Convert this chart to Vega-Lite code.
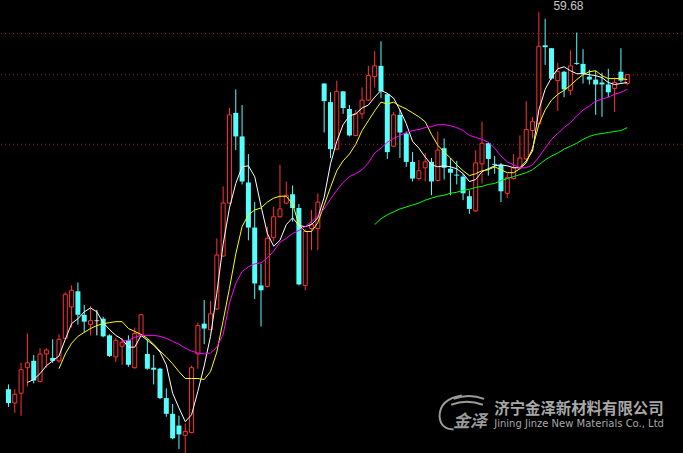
{
"$schema":"https://vega.github.io/schema/vega-lite/v6.json",
"width":683,"height":453,
"autosize":{"type":"fit","contains":"padding"},
"padding":0,
"background":"#000000",
"config":{"view":{"stroke":null}},
"datasets":{
"k":[
{"i":0,"o":21.2,"h":21.7,"l":19.4,"c":19.8},
{"i":1,"o":19.8,"h":21.2,"l":18.8,"c":20.7},
{"i":2,"o":20.8,"h":23.9,"l":18.5,"c":23.2},
{"i":3,"o":23.4,"h":26.9,"l":21.5,"c":23.9,"m5":21.9},
{"i":4,"o":24.1,"h":24.7,"l":21.8,"c":22.1,"m5":22.2},
{"i":5,"o":22.0,"h":25.4,"l":21.9,"c":24.8,"m5":22.8},
{"i":6,"o":24.8,"h":25.4,"l":23.4,"c":25.2,"m5":23.6},
{"i":7,"o":24.4,"h":26.3,"l":23.9,"c":24.1,"m5":24.1},
{"i":8,"o":24.1,"h":26.8,"l":23.9,"c":26.3,"m5":24.6,"m10":23.3},
{"i":9,"o":26.4,"h":31.1,"l":26.3,"c":30.9,"m5":26.3,"m10":24.8},
{"i":10,"o":29.6,"h":31.8,"l":27.5,"c":31.3,"m5":27.9,"m10":25.9},
{"i":11,"o":31.2,"h":32.1,"l":27.8,"c":28.8,"m5":28.4,"m10":26.6},
{"i":12,"o":28.8,"h":29.8,"l":27.0,"c":28.1,"m5":29.1,"m10":27.0},
{"i":13,"o":27.8,"h":29.7,"l":26.7,"c":28.2,"m5":29.5,"m10":27.4},
{"i":14,"o":28.2,"h":29.3,"l":26.7,"c":28.2,"m5":29.1,"m10":27.7},
{"i":15,"o":28.4,"h":28.6,"l":26.5,"c":26.6,"m5":28.0,"m10":27.9},
{"i":16,"o":26.7,"h":26.8,"l":24.5,"c":24.6,"m5":27.3,"m10":28.0},
{"i":17,"o":24.5,"h":26.4,"l":24.0,"c":26.2,"m5":26.7,"m10":28.1},
{"i":18,"o":25.6,"h":26.4,"l":23.7,"c":26.0,"m5":26.3,"m10":28.1,"m20":26.1},
{"i":19,"o":26.2,"h":26.7,"l":23.5,"c":23.7,"m5":25.5,"m10":27.4,"m20":26.2},
{"i":20,"o":23.4,"h":27.5,"l":23.3,"c":26.9,"m5":25.5,"m10":27.1,"m20":26.5},
{"i":21,"o":26.7,"h":28.9,"l":26.5,"c":28.8,"m5":26.7,"m10":26.8,"m20":26.7},
{"i":22,"o":24.8,"h":26.3,"l":23.2,"c":23.3,"m5":26.2,"m10":26.4,"m20":26.7},
{"i":23,"o":23.4,"h":24.7,"l":21.7,"c":23.2,"m5":25.7,"m10":25.8,"m20":26.7},
{"i":24,"o":23.3,"h":23.4,"l":20.2,"c":20.3,"m5":25.0,"m10":25.1,"m20":26.6},
{"i":25,"o":20.3,"h":21.3,"l":18.4,"c":18.7,"m5":23.7,"m10":24.5,"m20":26.4},
{"i":26,"o":18.7,"h":19.7,"l":16.1,"c":16.2,"m5":20.8,"m10":23.8,"m20":26.1},
{"i":27,"o":17.5,"h":18.5,"l":15.1,"c":16.6,"m5":19.3,"m10":23.0,"m20":25.8},
{"i":28,"o":16.5,"h":17.7,"l":14.5,"c":16.9,"m5":17.9,"m10":22.3,"m20":25.4},
{"i":29,"o":16.8,"h":23.6,"l":16.7,"c":23.4,"m5":18.6,"m10":22.3,"m20":25.1},
{"i":30,"o":24.8,"h":28.0,"l":23.3,"c":27.7,"m5":21.0,"m10":22.3,"m20":24.9},
{"i":31,"o":27.9,"h":30.3,"l":25.8,"c":27.4,"m5":23.6,"m10":22.2,"m20":24.8},
{"i":32,"o":27.3,"h":30.2,"l":27.2,"c":28.9,"m5":26.6,"m10":23.0,"m20":24.9},
{"i":33,"o":29.4,"h":36.6,"l":29.3,"c":34.9,"m5":31.0,"m10":25.0,"m20":25.5},
{"i":34,"o":34.8,"h":41.9,"l":34.7,"c":40.2,"m5":36.0,"m10":28.2,"m20":26.8},
{"i":35,"o":40.2,"h":49.9,"l":40.1,"c":49.2,"m5":39.7,"m10":31.5,"m20":30.0},
{"i":36,"o":49.4,"h":51.8,"l":45.6,"c":47.0,"m5":42.2,"m10":35.0,"m20":32.0},
{"i":37,"o":47.0,"h":50.2,"l":42.1,"c":42.4,"m5":43.9,"m10":37.8,"m20":33.2},
{"i":38,"o":42.3,"h":45.2,"l":36.4,"c":37.7,"m5":44.0,"m10":39.0,"m20":33.7},
{"i":39,"o":37.7,"h":40.3,"l":30.4,"c":32.0,"m5":42.9,"m10":39.5,"m20":34.0},
{"i":40,"o":31.8,"h":34.0,"l":27.6,"c":31.3,"m5":39.9,"m10":39.7,"m20":34.1},
{"i":41,"o":31.7,"h":37.8,"l":31.6,"c":36.6,"m5":37.1,"m10":40.3,"m20":34.6},
{"i":42,"o":36.7,"h":39.8,"l":36.3,"c":38.8,"m5":35.8,"m10":40.7,"m20":35.3},
{"i":43,"o":38.8,"h":44.1,"l":38.7,"c":39.6,"m5":36.4,"m10":40.9,"m20":36.2},
{"i":44,"o":40.2,"h":42.4,"l":40.1,"c":41.0,"m5":38.0,"m10":40.9,"m20":36.6},
{"i":45,"o":41.1,"h":42.0,"l":38.3,"c":39.7,"m5":38.7,"m10":40.1,"m20":37.1},
{"i":46,"o":39.7,"h":40.1,"l":31.8,"c":31.9,"m5":37.9,"m10":38.0,"m20":37.4},
{"i":47,"o":31.8,"h":37.5,"l":31.3,"c":37.3,"m5":37.8,"m10":37.3,"m20":37.8},
{"i":48,"o":37.6,"h":39.5,"l":35.4,"c":38.0,"m5":38.0,"m10":37.3,"m20":38.3},
{"i":49,"o":37.6,"h":41.2,"l":35.4,"c":40.3,"m5":38.7,"m10":38.2,"m20":38.9},
{"i":50,"o":52.4,"h":52.4,"l":47.4,"c":50.6,"m5":40.8,"m10":40.0,"m20":39.6},
{"i":51,"o":50.5,"h":51.5,"l":44.8,"c":45.7,"m5":44.2,"m10":41.8,"m20":40.6},
{"i":52,"o":45.7,"h":52.7,"l":45.6,"c":51.6,"m5":46.5,"m10":43.5,"m20":41.5},
{"i":53,"o":51.6,"h":51.6,"l":49.3,"c":49.9,"m5":48.2,"m10":44.5,"m20":42.3},
{"i":54,"o":49.8,"h":50.2,"l":47.0,"c":47.1,"m5":49.1,"m10":45.2,"m20":42.9},
{"i":55,"o":47.1,"h":49.7,"l":47.0,"c":49.3,"m5":49.3,"m10":46.2,"m20":43.2},
{"i":56,"o":49.3,"h":52.0,"l":48.8,"c":50.7,"m5":49.9,"m10":47.6,"m20":43.6},
{"i":57,"o":50.7,"h":54.2,"l":50.6,"c":53.2,"m5":50.2,"m10":48.6,"m20":44.3},
{"i":58,"o":53.1,"h":55.7,"l":52.0,"c":54.2,"m5":51.0,"m10":49.6,"m20":45.3,"m60":38.0},
{"i":59,"o":54.2,"h":56.7,"l":50.9,"c":51.6,"m5":51.7,"m10":50.5,"m20":45.8,"m60":38.6},
{"i":60,"o":51.3,"h":51.4,"l":44.7,"c":45.4,"m5":51.4,"m10":50.3,"m20":46.4,"m60":39.0},
{"i":61,"o":46.0,"h":49.5,"l":45.9,"c":49.2,"m5":50.9,"m10":50.5,"m20":46.8,"m60":39.3},
{"i":62,"o":49.2,"h":49.7,"l":44.8,"c":47.4,"m5":49.7,"m10":50.1,"m20":47.1,"m60":39.6},
{"i":63,"o":47.3,"h":47.5,"l":43.9,"c":44.4,"m5":48.3,"m10":49.8,"m20":47.4,"m60":39.8},
{"i":64,"o":44.4,"h":45.4,"l":42.4,"c":42.7,"m5":46.5,"m10":49.4,"m20":47.6,"m60":40.0},
{"i":65,"o":42.7,"h":44.6,"l":42.5,"c":43.5,"m5":45.8,"m10":49.0,"m20":47.7,"m60":40.2},
{"i":66,"o":43.8,"h":45.3,"l":42.4,"c":44.4,"m5":44.9,"m10":48.5,"m20":47.9,"m60":40.5},
{"i":67,"o":44.4,"h":44.8,"l":41.0,"c":42.4,"m5":44.1,"m10":47.2,"m20":48.0,"m60":40.7},
{"i":68,"o":42.5,"h":47.5,"l":42.4,"c":45.6,"m5":43.9,"m10":46.1,"m20":48.2,"m60":40.9},
{"i":69,"o":45.8,"h":46.8,"l":42.6,"c":43.8,"m5":44.0,"m10":45.4,"m20":48.2,"m60":41.0},
{"i":70,"o":43.7,"h":44.8,"l":41.0,"c":43.3,"m5":43.9,"m10":44.8,"m20":48.1,"m60":41.2},
{"i":71,"o":43.1,"h":44.5,"l":42.1,"c":43.0,"m5":43.7,"m10":44.1,"m20":47.9,"m60":41.3},
{"i":72,"o":42.9,"h":43.2,"l":40.5,"c":41.2,"m5":43.2,"m10":43.5,"m20":47.6,"m60":41.5},
{"i":73,"o":40.9,"h":41.5,"l":39.1,"c":39.6,"m5":42.4,"m10":43.0,"m20":47.1,"m60":41.6},
{"i":74,"o":39.4,"h":45.6,"l":39.3,"c":44.3,"m5":42.6,"m10":43.2,"m20":46.9,"m60":41.8},
{"i":75,"o":44.2,"h":48.5,"l":42.2,"c":46.3,"m5":43.4,"m10":43.5,"m20":46.7,"m60":41.9},
{"i":76,"o":46.3,"h":46.4,"l":43.0,"c":44.7,"m5":43.7,"m10":43.6,"m20":46.4,"m60":42.1},
{"i":77,"o":44.2,"h":45.0,"l":43.2,"c":44.1,"m5":44.0,"m10":43.9,"m20":45.8,"m60":42.2},
{"i":78,"o":44.1,"h":44.3,"l":40.3,"c":41.4,"m5":44.1,"m10":43.6,"m20":45.0,"m60":42.5},
{"i":79,"o":41.2,"h":43.2,"l":40.7,"c":42.8,"m5":44.0,"m10":43.3,"m20":44.4,"m60":42.7},
{"i":80,"o":42.7,"h":45.2,"l":42.6,"c":43.8,"m5":43.8,"m10":43.3,"m20":44.1,"m60":42.9},
{"i":81,"o":43.8,"h":47.1,"l":43.7,"c":44.8,"m5":43.8,"m10":43.7,"m20":43.8,"m60":43.1},
{"i":82,"o":44.7,"h":50.6,"l":44.6,"c":47.7,"m5":44.5,"m10":44.3,"m20":43.8,"m60":43.3},
{"i":83,"o":47.6,"h":49.0,"l":46.8,"c":48.5,"m5":45.5,"m10":45.8,"m20":44.1,"m60":43.6},
{"i":84,"o":48.3,"h":59.68,"l":48.2,"c":56.2,"m5":49.7,"m10":48.2,"m20":44.9,"m60":44.1},
{"i":85,"o":56.3,"h":59.0,"l":54.3,"c":56.1,"m5":51.8,"m10":49.7,"m20":45.8,"m60":44.6},
{"i":86,"o":56.0,"h":56.0,"l":52.8,"c":52.9,"m5":53.0,"m10":50.7,"m20":46.7,"m60":45.0},
{"i":87,"o":52.7,"h":54.5,"l":49.6,"c":53.6,"m5":53.9,"m10":51.3,"m20":47.3,"m60":45.3},
{"i":88,"o":53.6,"h":53.7,"l":51.0,"c":51.8,"m5":54.1,"m10":51.7,"m20":47.9,"m60":45.7},
{"i":89,"o":51.7,"h":55.8,"l":51.2,"c":54.2,"m5":53.7,"m10":52.2,"m20":48.4,"m60":46.0},
{"i":90,"o":54.5,"h":57.6,"l":54.3,"c":54.4,"m5":53.4,"m10":52.8,"m20":49.1,"m60":46.3},
{"i":91,"o":54.4,"h":55.9,"l":52.4,"c":53.4,"m5":53.4,"m10":53.3,"m20":49.7,"m60":46.7},
{"i":92,"o":53.1,"h":53.8,"l":52.3,"c":52.8,"m5":53.3,"m10":53.6,"m20":50.1,"m60":47.0},
{"i":93,"o":52.8,"h":53.7,"l":49.2,"c":52.3,"m5":53.2,"m10":53.7,"m20":50.6,"m60":47.2},
{"i":94,"o":52.5,"h":53.5,"l":49.0,"c":52.3,"m5":53.0,"m10":53.2,"m20":50.8,"m60":47.3},
{"i":95,"o":52.3,"h":53.9,"l":51.0,"c":51.5,"m5":52.5,"m10":52.9,"m20":51.0,"m60":47.4},
{"i":96,"o":51.9,"h":53.0,"l":49.5,"c":52.5,"m5":52.3,"m10":52.9,"m20":51.3,"m60":47.5},
{"i":97,"o":53.6,"h":56.0,"l":52.5,"c":52.7,"m5":52.4,"m10":52.9,"m20":51.5,"m60":47.6},
{"i":98,"o":52.4,"h":53.3,"l":52.2,"c":53.3,"m5":52.5,"m10":52.8,"m20":51.8,"m60":47.9}
],
"lv":[{"p":57.5},{"p":53.3},{"p":46.2}],
"top":[{"i":84,"p":59.68,"t":"59.68"}],
"wm":[{"i":76.94,"p":19.15,"t":"济宁金泽新材料有限公司","k":"cn"},{"i":76.94,"p":17.7,"t":"Jining Jinze New Materials Co., Ltd","k":"en"},{"i":70.4,"p":17.9,"t":"金泽","k":"logo"},{"i":71.8,"p":18.9,"t":"","k":"swoosh"}]
},
"layer":[
{"data":{"name":"lv"},"mark":{"type":"rule","color":"#a81818","strokeWidth":1,"strokeDash":[1,3]},
 "encoding":{"y":{"field":"p","type":"quantitative","scale":{"domain":[14.7,60],"nice":false,"zero":false},"axis":null}}},
{"data":{"name":"k"},"transform":[{"filter":"datum.c > datum.o"}],"mark":{"type":"rule","color":"#ff3232","strokeWidth":1,"clip":true},
 "encoding":{"x":{"field":"i","type":"quantitative","scale":{"domain":[-0.39,105.88],"nice":false,"zero":false},"axis":null},
  "y":{"field":"l","type":"quantitative","axis":null},"y2":{"field":"h"}}},
{"data":{"name":"k"},"transform":[{"filter":"datum.c < datum.o"}],"mark":{"type":"rule","color":"#54ffff","strokeWidth":1,"clip":true},
 "encoding":{"x":{"field":"i","type":"quantitative","axis":null},"y":{"field":"l","type":"quantitative","axis":null},"y2":{"field":"h"}}},
{"data":{"name":"k"},"transform":[{"filter":"datum.c == datum.o"}],"mark":{"type":"rule","color":"#ffffff","strokeWidth":1,"clip":true},
 "encoding":{"x":{"field":"i","type":"quantitative","axis":null},"y":{"field":"l","type":"quantitative","axis":null},"y2":{"field":"h"}}},
{"data":{"name":"k"},"transform":[{"filter":"datum.c > datum.o"}],"mark":{"type":"bar","width":4,"fill":"#000000","stroke":"#ff3232","strokeWidth":1,"clip":true},
 "encoding":{"x":{"field":"i","type":"quantitative","axis":null},"y":{"field":"o","type":"quantitative","axis":null},"y2":{"field":"c"}}},
{"data":{"name":"k"},"transform":[{"filter":"datum.c < datum.o"}],"mark":{"type":"bar","width":5,"fill":"#54ffff","clip":true},
 "encoding":{"x":{"field":"i","type":"quantitative","axis":null},"y":{"field":"o","type":"quantitative","axis":null},"y2":{"field":"c"}}},
{"data":{"name":"k"},"transform":[{"filter":"datum.c == datum.o"}],"mark":{"type":"tick","orient":"horizontal","size":5,"thickness":1,"color":"#ffffff"},
 "encoding":{"x":{"field":"i","type":"quantitative","axis":null},"y":{"field":"o","type":"quantitative","axis":null}}},
{"data":{"name":"k"},"mark":{"type":"line","color":"#ffffff","strokeWidth":1,"clip":true},
 "encoding":{"x":{"field":"i","type":"quantitative","axis":null},"y":{"field":"m5","type":"quantitative","axis":null}}},
{"data":{"name":"k"},"mark":{"type":"line","color":"#ffff00","strokeWidth":1,"clip":true},
 "encoding":{"x":{"field":"i","type":"quantitative","axis":null},"y":{"field":"m10","type":"quantitative","axis":null}}},
{"data":{"name":"k"},"mark":{"type":"line","color":"#ff00ff","strokeWidth":1,"clip":true},
 "encoding":{"x":{"field":"i","type":"quantitative","axis":null},"y":{"field":"m20","type":"quantitative","axis":null}}},
{"data":{"name":"k"},"mark":{"type":"line","color":"#00ff00","strokeWidth":1,"clip":true},
 "encoding":{"x":{"field":"i","type":"quantitative","axis":null},"y":{"field":"m60","type":"quantitative","axis":null}}},
{"data":{"name":"top"},"mark":{"type":"text","align":"left","baseline":"alphabetic","dx":14.6,"dy":-2,"fontSize":12,"font":"Liberation Sans","color":"#c8c8c8"},
 "encoding":{"x":{"field":"i","type":"quantitative","axis":null},"y":{"field":"p","type":"quantitative","axis":null},"text":{"field":"t"}}},
{"data":{"name":"wm"},"transform":[{"filter":"datum.k == 'cn'"}],"mark":{"type":"text","align":"left","baseline":"middle","fontSize":15.4,"fontWeight":"bold","font":"Noto Sans CJK SC","color":"#a8a8a8"},
 "encoding":{"x":{"field":"i","type":"quantitative","axis":null},"y":{"field":"p","type":"quantitative","axis":null},"text":{"field":"t"}}},
{"data":{"name":"wm"},"transform":[{"filter":"datum.k == 'en'"}],"mark":{"type":"text","align":"left","baseline":"middle","fontSize":10,"font":"DejaVu Sans","color":"#a8a8a8"},
 "encoding":{"x":{"field":"i","type":"quantitative","axis":null},"y":{"field":"p","type":"quantitative","axis":null},"text":{"field":"t"}}},
{"data":{"name":"wm"},"transform":[{"filter":"datum.k == 'logo'"}],"mark":{"type":"text","align":"left","baseline":"middle","fontSize":17,"fontWeight":"bold","fontStyle":"italic","font":"Noto Sans CJK SC","color":"#9a9a9a"},
 "encoding":{"x":{"field":"i","type":"quantitative","axis":null},"y":{"field":"p","type":"quantitative","axis":null},"text":{"field":"t"}}},
{"data":{"name":"wm"},"transform":[{"filter":"datum.k == 'swoosh'"}],"mark":{"type":"point","filled":false,"stroke":"#9a9a9a","strokeWidth":2,"size":2200,"opacity":1,"shape":"M -0.35 -0.55 Q 0.3 -0.8 0.95 -0.55 M -0.45 -0.3 Q 0.2 -0.55 0.9 -0.3 M 0.0 -0.7 Q -0.95 -0.55 -0.95 0.2 Q -0.9 0.75 -0.35 0.75"},
 "encoding":{"x":{"field":"i","type":"quantitative","axis":null},"y":{"field":"p","type":"quantitative","axis":null}}}
]
}
